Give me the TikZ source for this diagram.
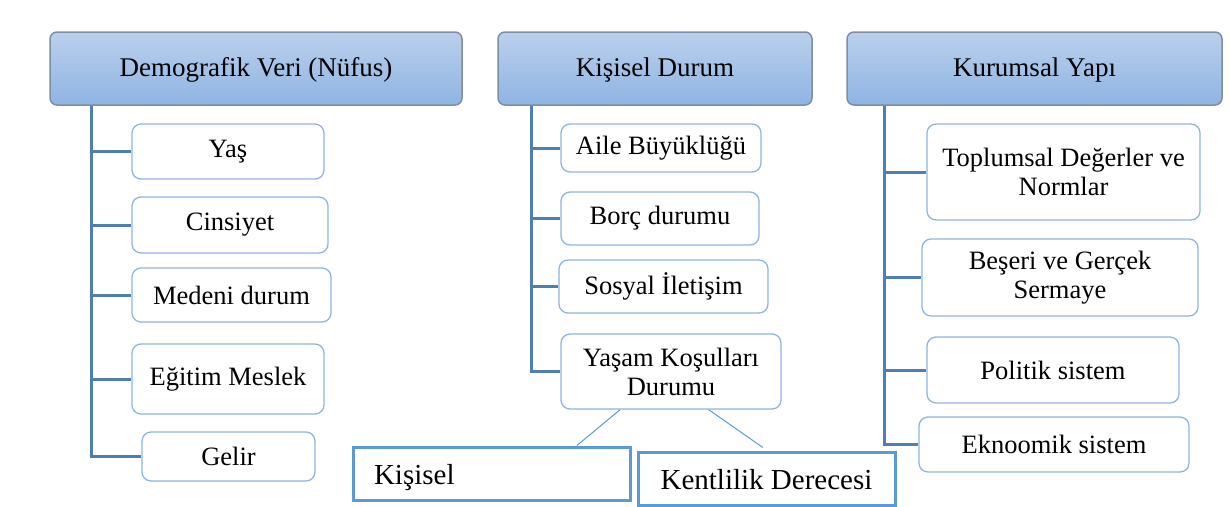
\documentclass[tikz,border=0pt]{standalone}
\usepackage{fontspec}
\setmainfont{Liberation Serif}
\usetikzlibrary{calc}
\definecolor{headtop}{HTML}{BAD0EC}
\definecolor{headbot}{HTML}{8FB4E3}
\definecolor{headline}{HTML}{7E8DA4}
\definecolor{boxline}{HTML}{8DB4E2}
\definecolor{trunkblue}{HTML}{4F7EB3}
\definecolor{lowblue}{HTML}{5B9BD5}
\tikzset{
  headbox/.style={draw=headline, line width=1.5pt, rounded corners=7pt, top color=headtop, bottom color=headbot,
    minimum height=73pt, inner sep=2pt, text height=20pt, text depth=4pt, font=\fontsize{27}{31}\selectfont},
  itembox/.style={draw=boxline, line width=1.3pt, rounded corners=9pt, fill=white, align=center,
    inner sep=2pt, font=\fontsize{26.5}{29}\selectfont},
  lowbox/.style={draw=lowblue, line width=3pt, fill=white, minimum height=53pt, inner ysep=2pt,
    text height=22pt, text depth=0pt, font=\fontsize{29}{33}\selectfont},
  trunk/.style={draw=trunkblue, line width=3pt},
  link/.style={draw=lowblue, line width=1pt}
}
\begin{document}
\begin{tikzpicture}[x=1pt,y=-1pt]
\useasboundingbox (0,0) rectangle (1230,506);
% basliklar
\node[headbox, minimum width=412pt] (demog) at (256,68.5) {Demografik Veri (Nüfus)};
\node[headbox, minimum width=314pt] (kisisel) at (655,68.5) {Kişisel Durum};
\node[headbox, minimum width=375pt] (kurumsal) at (1034.5,68.5) {Kurumsal Yapı};
% demografik veri
\node[itembox, minimum width=192pt, minimum height=55pt] (yas) at (228,151.5) {Yaş};
\node[itembox, minimum width=196pt, minimum height=56pt] (cinsiyet) at (230,225) {Cinsiyet};
\node[itembox, minimum width=199pt, minimum height=54pt] (medeni) at (231.5,295) {Medeni durum};
\node[itembox, minimum width=192pt, minimum height=70pt] (egitim) at (228,379) {Eğitim Meslek};
\node[itembox, minimum width=173pt, minimum height=49pt] (gelir) at (228.5,456.5) {Gelir};
% kisisel durum
\node[itembox, minimum width=200pt, minimum height=48pt] (aile) at (661,148) {Aile Büyüklüğü};
\node[itembox, minimum width=198pt, minimum height=53pt] (borc) at (660,218.5) {Borç durumu};
\node[itembox, minimum width=209pt, minimum height=53pt] (sosyal) at (663.5,286.5) {Sosyal İletişim};
\node[itembox, minimum width=220pt, minimum height=75pt] (yasam) at (671,371.5) {Yaşam Koşulları\\Durumu};
% kurumsal yapi
\node[itembox, minimum width=273pt, minimum height=96pt] (toplumsal) at (1063.5,172) {Toplumsal Değerler ve\\Normlar};
\node[itembox, minimum width=276pt, minimum height=77pt] (beseri) at (1060,277.5) {Beşeri ve Gerçek\\Sermaye};
\node[itembox, minimum width=252pt, minimum height=66pt] (politik) at (1053,370) {Politik sistem};
\node[itembox, minimum width=270pt, minimum height=55pt] (eknoomik) at (1054,444.5) {Eknoomik sistem};
% alt kutular
\node[lowbox, inner xsep=21pt, text width=235pt, align=left] (kisiselb) at (491.5,473.5) {Kişisel};
\node[lowbox, minimum width=257pt] (kentlilik) at (766.5,478.5) {Kentlilik Derecesi};

\coordinate (t1) at ($(demog.south west)+(42,0)$);
\coordinate (t2) at ($(kisisel.south west)+(34,0)$);
\coordinate (t3) at ($(kurumsal.south west)+(38,0)$);
\draw[trunk] (t1) |- (gelir.west);
\foreach \n in {yas,cinsiyet,medeni,egitim}
  \draw[trunk] (t1 |- \n.west) -- (\n.west);
\draw[trunk] (t2) |- (yasam.west);
\foreach \n in {aile,borc,sosyal}
  \draw[trunk] (t2 |- \n.west) -- (\n.west);
\draw[trunk] (t3) |- (eknoomik.west);
\foreach \n in {toplumsal,beseri,politik}
  \draw[trunk] (t3 |- \n.west) -- (\n.west);

\draw[link] ($(yasam.south west)!0.27!(yasam.south east)$) -- ($(kisiselb.north west)!0.805!(kisiselb.north east)$);
\draw[link] ($(yasam.south west)!0.67!(yasam.south east)$) -- ($(kentlilik.north west)!0.486!(kentlilik.north east)+(0,-3)$);
\end{tikzpicture}
\end{document}
